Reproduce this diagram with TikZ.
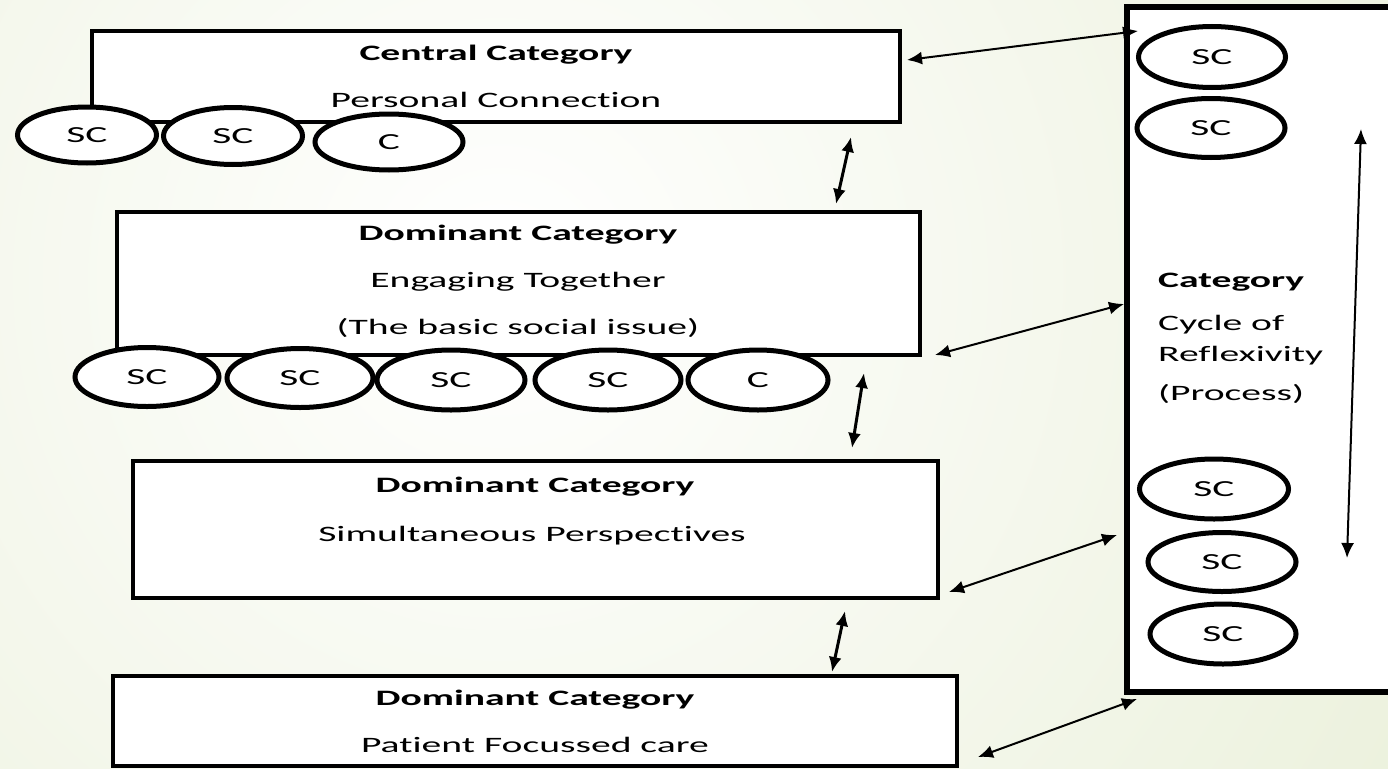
\documentclass[tikz,border=0pt]{standalone}
\usepackage{fontspec}
\usepackage{xcolor}
\usepackage{tikz}
\usetikzlibrary{shapes.geometric}
\usetikzlibrary{arrows.meta,positioning,calc}
\newfontfamily\slidefont[FakeStretch=1.8,RawFeature=-liga]{Carlito}
\definecolor{slidegreen}{RGB}{216,227,186}

\begin{document}
\begin{tikzpicture}[x=1pt,y=-1pt,
	catbox/.style={draw,rectangle,line width=4.5pt,fill=white,inner sep=0pt},
	subcat/.style={draw,ellipse,line width=5pt,fill=white,inner sep=0pt,font=\slidefont\fontsize{23}{27}\selectfont},
	cattext/.style={anchor=base,inner sep=0pt,font=\slidefont\fontsize{22}{26}\selectfont},
	link/.style={{Latex[length=15pt,width=13pt]}-{Latex[length=15pt,width=13pt]},line width=2pt}]
	\useasboundingbox (0,0) rectangle (1388,768);
	\begin{scope}
		\clip (0,0) rectangle (1388,768);
		\shade[inner color=white,outer color=slidegreen] (500,280) circle (2100pt);
	\end{scope}
		% category boxes
		\node[catbox,minimum width=808pt,minimum height=91pt] (central) at (496,76.5) {};
		\node[catbox,minimum width=803pt,minimum height=143pt] (engaging) at (518.5,283.5) {};
		\node[catbox,minimum width=805pt,minimum height=137pt] (simult) at (535.5,529.5) {};
		\node[catbox,minimum width=844pt,minimum height=90pt] (patient) at (535,721) {};
		\node[catbox,minimum width=268pt,minimum height=685pt,line width=5.5pt] (cycle) at (1261,349.5) {};
		% texts
		\node[cattext] at (496,60) {\bfseries Central Category};
		\node[cattext] at (496,107) {Personal Connection};
		\node[cattext] at (518,240) {\bfseries Dominant Category};
		\node[cattext] at (518,287) {Engaging Together};
		\node[cattext] at (518,334) {(The basic social issue)};
		\node[cattext] at (535,492) {\bfseries Dominant Category};
		\node[cattext] at (532,541) {Simultaneous Perspectives};
		\node[cattext] at (535,705) {\bfseries Dominant Category};
		\node[cattext] at (535,752) {Patient Focussed care};
		\node[cattext,anchor=base west] at (1158,287) {\bfseries Category};
		\node[cattext,anchor=base west] at (1158,330) {Cycle of};
		\node[cattext,anchor=base west] at (1158,361) {Reflexivity};
		\node[cattext,anchor=base west] at (1158,400) {(Process)};
		% sub categories
		\node[subcat,minimum width=139pt,minimum height=56pt] (pc1) at (87,135) {SC};
		\node[subcat,minimum width=139pt,minimum height=57pt] (pc2) at (233,136) {SC};
		\node[subcat,minimum width=148pt,minimum height=56pt] (pc3) at (389,142) {C};
		\node[subcat,minimum width=144pt,minimum height=59pt] (et1) at (147,377) {SC};
		\node[subcat,minimum width=146pt,minimum height=59pt] (et2) at (300,378) {SC};
		\node[subcat,minimum width=148pt,minimum height=60pt] (et3) at (451,380) {SC};
		\node[subcat,minimum width=146pt,minimum height=60pt] (et4) at (608,380) {SC};
		\node[subcat,minimum width=140pt,minimum height=60pt] (et5) at (758,380) {C};
		\node[subcat,minimum width=147pt,minimum height=61pt] (cr1) at (1212,57) {SC};
		\node[subcat,minimum width=148pt,minimum height=59pt] (cr2) at (1211,128) {SC};
		\node[subcat,minimum width=149pt,minimum height=60pt] (cr3) at (1214,489) {SC};
		\node[subcat,minimum width=148pt,minimum height=59pt] (cr4) at (1222,562) {SC};
		\node[subcat,minimum width=146pt,minimum height=60pt] (cr5) at (1223,634) {SC};
		% arrow ends
		\coordinate (a1) at (907,60);   \coordinate (b1) at (1138,31);
		\coordinate (a2) at (851,137);  \coordinate (b2) at (836,204);
		\coordinate (a3) at (935,355);  \coordinate (b3) at (1124,304);
		\coordinate (a4) at (864,373);  \coordinate (b4) at (852,448);
		\coordinate (a5) at (949,592);  \coordinate (b5) at (1117,535);
		\coordinate (a6) at (845,611);  \coordinate (b6) at (832,672);
		\coordinate (a7) at (978,757);  \coordinate (b7) at (1137,699);
		\coordinate (a8) at (1361,129); \coordinate (b8) at (1347,558);
		\draw[link] (a1) -- (b1);
		\draw[link,line width=3pt] (a2) -- (b2);
		\draw[link] (a3) -- (b3);
		\draw[link,line width=3pt] (a4) -- (b4);
		\draw[link] (a5) -- (b5);
		\draw[link,line width=3pt] (a6) -- (b6);
		\draw[link] (a7) -- (b7);
		\draw[link] (a8) -- (b8);
	\end{tikzpicture}
\end{document}
